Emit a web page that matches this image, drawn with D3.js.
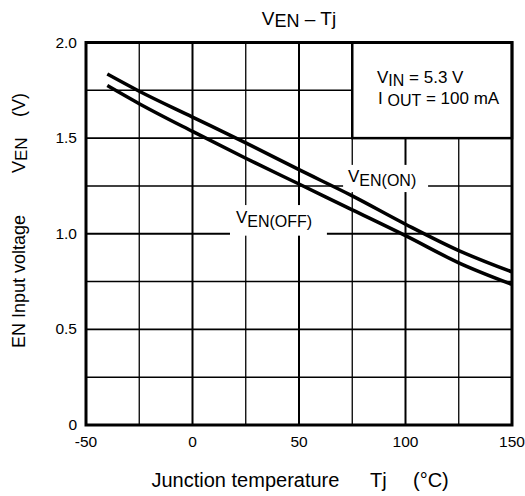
<!DOCTYPE html>
<html>
<head>
<meta charset="utf-8">
<script src="https://cdn.jsdelivr.net/npm/d3@7"></script>
<style>
  html, body { margin: 0; padding: 0; background: #fff; }
  svg { display: block; font-family: "Liberation Sans", Arial, sans-serif; }
</style>
</head>
<body>
<svg id="chart" width="525" height="496"></svg>
<script>
// ---- data ----
const temps = [-40, -25, 0, 25, 50, 75, 100, 125, 150];
const venOn = [1.835, 1.745, 1.61, 1.475, 1.335, 1.198, 1.05, 0.912, 0.80];
const venOff = [1.775, 1.68, 1.535, 1.395, 1.26, 1.125, 0.99, 0.848, 0.735];
const xTicks = [-50, 0, 50, 100, 150];
const xTickLabels = ["-50", "0", "50", "100", "150"];
const yTicks = [0, 0.5, 1.0, 1.5, 2.0];
const yTickLabels = ["0", "0.5", "1.0", "1.5", "2.0"];
const xGrid = [-25, 0, 25, 50, 75, 100, 125];
const yGrid = [0.25, 0.5, 0.75, 1.0, 1.25, 1.5, 1.75];

const svg = d3.select("#chart");
const x = d3.scaleLinear().domain([-50, 150]).range([86, 512]);
const y = d3.scaleLinear().domain([0, 2]).range([425, 42.5]);

// grid
const g = svg.append("g");
g.selectAll(".vg").data(xGrid).enter().append("line")
  .attr("x1", d => x(d)).attr("x2", d => x(d))
  .attr("y1", y(0)).attr("y2", y(2))
  .attr("stroke", "#000")
  .attr("stroke-width", d => (d % 50 === 0 ? 2 : 1.3));
g.selectAll(".hg").data(yGrid).enter().append("line")
  .attr("x1", x(-50)).attr("x2", x(150))
  .attr("y1", d => y(d)).attr("y2", d => y(d))
  .attr("stroke", "#000")
  .attr("stroke-width", d => (Math.round(d * 4) % 2 === 0 ? 1.8 : 1.5));

// condition box (covers grid)
svg.append("rect")
  .attr("x", x(75)).attr("y", y(2))
  .attr("width", x(150) - x(75)).attr("height", y(1.5) - y(2))
  .attr("fill", "#fff").attr("stroke", "#000").attr("stroke-width", 2.5);

// label backgrounds
svg.append("rect")
  .attr("x", x(70.7)).attr("y", y(1.36))
  .attr("width", x(110.6) - x(70.7)).attr("height", y(1.218) - y(1.36))
  .attr("fill", "#fff");
svg.append("rect")
  .attr("x", x(17.6)).attr("y", y(1.15))
  .attr("width", x(63.1) - x(17.6)).attr("height", y(0.99) - y(1.15))
  .attr("fill", "#fff");

// plot border
svg.append("rect")
  .attr("x", x(-50)).attr("y", y(2))
  .attr("width", x(150) - x(-50)).attr("height", y(0) - y(2))
  .attr("fill", "none").attr("stroke", "#000").attr("stroke-width", 3);

// curves
const line = d3.line().x(d => x(d[0])).y(d => y(d[1])).curve(d3.curveMonotoneX);
[venOn, venOff].forEach(series => {
  svg.append("path")
    .datum(temps.map((t, i) => [t, series[i]]))
    .attr("d", line)
    .attr("fill", "none").attr("stroke", "#000")
    .attr("stroke-width", 3.5).attr("stroke-linejoin", "round");
});

// tick labels
svg.selectAll(".xt").data(xTicks).enter().append("text")
  .attr("x", d => x(d)).attr("y", 447)
  .attr("text-anchor", "middle").attr("font-size", 15.5)
  .text((d, i) => xTickLabels[i]);
svg.selectAll(".yt").data(yTicks).enter().append("text")
  .attr("x", 77).attr("y", d => y(d) + 5)
  .attr("text-anchor", "end").attr("font-size", 15.5)
  .text((d, i) => yTickLabels[i]);

// helper for V with subscript
function subText(sel, main, sub, rest, subSize, shift) {
  sel.append("tspan").text(main);
  sel.append("tspan").attr("font-size", subSize).attr("dy", shift).text(sub);
  if (rest) sel.append("tspan").attr("dy", -shift).text(rest);
}

// title
const title = svg.append("text").attr("x", x(50)).attr("y", 25)
  .attr("text-anchor", "middle").attr("font-size", 19);
subText(title, "V", "EN", " \u2013 Tj", 18, 2);

// condition text
const c1 = svg.append("text").attr("x", 377).attr("y", 83).attr("font-size", 17);
subText(c1, "V", "IN", " = 5.3 V", 16, 2.5);
const c2 = svg.append("text").attr("x", 378).attr("y", 104).attr("font-size", 17);
subText(c2, "I ", "OUT", " = 100 mA", 16, 2);

// curve labels
const l1 = svg.append("text").attr("x", x(73)).attr("y", y(1.272)).attr("font-size", 17);
subText(l1, "V", "EN(ON)", null, 16, 4);
const l2 = svg.append("text").attr("x", x(20.4)).attr("y", y(1.056)).attr("font-size", 17);
subText(l2, "V", "EN(OFF)", null, 16, 4);

// x axis title
svg.append("text").attr("x", 151.5).attr("y", 486.5).attr("font-size", 20).text("Junction temperature");
svg.append("text").attr("x", 370).attr("y", 486.5).attr("font-size", 20).text("Tj");
svg.append("text").attr("x", 413).attr("y", 486.5).attr("font-size", 20).text("(\u00B0C)");

// y axis title (rotated)
const yt = svg.append("g").attr("transform", "translate(25,0) rotate(-90)");
yt.append("text").attr("x", -348).attr("y", 0).attr("font-size", 18).text("EN Input voltage");
const yv = yt.append("text").attr("x", -173).attr("y", 0).attr("font-size", 18);
subText(yv, "V", "EN", null, 17, 2);
yt.append("text").attr("x", -117).attr("y", 0).attr("font-size", 18).text("(V)");
</script>
</body>
</html>
